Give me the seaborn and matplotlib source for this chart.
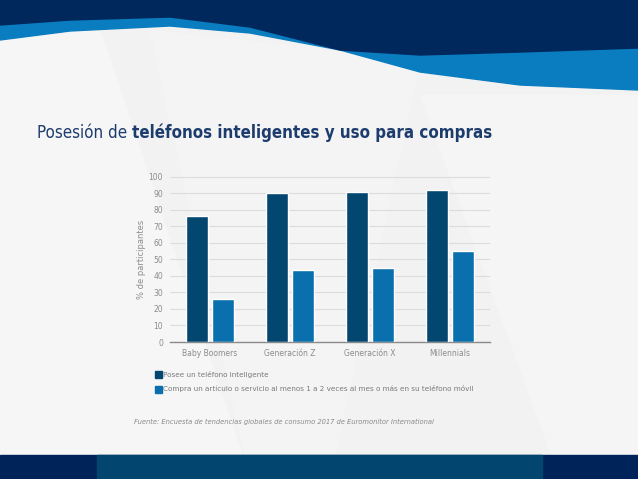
import numpy as np
import pandas as pd
import matplotlib
matplotlib.use('Agg')
import matplotlib.pyplot as plt
import seaborn as sns
from matplotlib.patches import Polygon, Rectangle

# Datos del gráfico
generaciones = ['Baby Boomers', 'Generación Z', 'Generación X', 'Millennials']
posee_telefono = [76, 90, 91, 92]
compra_movil = [26, 43.5, 44.5, 55]
series = ['Posee un teléfono inteligente',
          'Compra un artículo o servicio al menos 1 a 2 veces al mes o más en su teléfono móvil']
colores = ['#03466f', '#0a70ad']

df = pd.DataFrame({
    'Generación': generaciones * 2,
    'Serie': [series[0]] * 4 + [series[1]] * 4,
    'Valor': posee_telefono + compra_movil,
})

sns.set_theme(style='white')
plt.rcParams['font.family'] = ['DejaVu Sans']

fig = plt.figure(figsize=(6.38, 4.79), dpi=100)
fig.patch.set_facecolor('#f2f2f2')

# fondo de la diapositiva (facetas claras)
def fx(x): return x / 638
def fy(y): return 1 - y / 479

for pts, c in [
    ([(0, 40), (100, 30), (250, 479), (0, 479)], '#f6f6f6'),
    ([(150, 30), (420, 60), (330, 479), (250, 479)], '#f4f4f4'),
    ([(420, 95), (638, 95), (638, 479), (560, 479)], '#f5f5f5'),
]:
    fig.add_artist(Polygon([(fx(a), fy(b)) for a, b in pts], closed=True,
                           transform=fig.transFigure, color=c, zorder=0))

# banda superior y onda azul
top_x = [0, 70, 170, 250, 340, 420, 520, 638]
navy_y = [25, 20, 17, 27, 50, 55, 52, 48]
blue_y = [40, 31, 26, 33, 50, 72, 85, 90]
blue_pts = [(fx(x), fy(y)) for x, y in zip(top_x, blue_y)] + [(1, 1), (0, 1)]
fig.add_artist(Polygon(blue_pts, closed=True, transform=fig.transFigure,
                       color='#0a7cc0', zorder=1))
navy_pts = [(fx(x), fy(y)) for x, y in zip(top_x, navy_y)] + [(1, 1), (0, 1)]
fig.add_artist(Polygon(navy_pts, closed=True, transform=fig.transFigure,
                       color='#00285c', zorder=2))

# banda inferior
fig.add_artist(Rectangle((0, 0), 1, fy(455), transform=fig.transFigure,
                         color='#00245a', zorder=1))
fig.add_artist(Rectangle((fx(97), 0), fx(542) - fx(97), fy(455),
                         transform=fig.transFigure, color='#02466f', zorder=2))

# título (dos partes: ligera + negrita)
renderer = fig.canvas.get_renderer()
t1 = fig.text(fx(37), fy(133), 'Posesión de ', fontsize=12.2, color='#1d3c6e',
              family='DejaVu Sans', fontstretch='condensed', va='center', ha='left')
x_end = t1.get_window_extent(renderer).x1 / fig.bbox.width
fig.text(x_end, fy(133), 'teléfonos inteligentes y uso para compras', fontsize=12.2,
         color='#1d3c6e', family='DejaVu Sans', fontstretch='condensed',
         fontweight='bold', va='center', ha='left')

# gráfico de barras
ax = fig.add_axes([fx(170), fy(342), fx(490) - fx(170), fy(176) - fy(342)])
ax.set_facecolor('none')
sns.barplot(data=df, x='Generación', y='Valor', hue='Serie', palette=colores,
            saturation=1, width=0.66, gap=0.18, ax=ax, legend=False, zorder=3)
ax.set_ylim(0, 100.5)
ax.set_yticks(range(0, 101, 10))
ax.yaxis.grid(True, color='#dcdcdc', linewidth=0.8, zorder=0)
ax.set_axisbelow(True)
for s in ['top', 'right', 'left']:
    ax.spines[s].set_visible(False)
ax.spines['bottom'].set_color('#8a8a8a')
ax.spines['bottom'].set_linewidth(1.0)
ax.tick_params(axis='both', length=0, labelsize=5.5, labelcolor='#8c8c8c')
ax.tick_params(axis='y', pad=5)
ax.tick_params(axis='x', pad=5)
ax.set_xlabel('')
ax.set_ylabel('% de participantes', fontsize=6, color='#8c8c8c', labelpad=2)

# leyenda
for i, (lab, c) in enumerate(zip(series, colores)):
    y = fy(374 + 15 * i)
    fig.add_artist(Rectangle((fx(155), y - 0.008), fx(7), fy(0) - fy(7),
                             transform=fig.transFigure, color=c, zorder=3))
    fig.text(fx(163), y, lab, fontsize=5.2, color='#7a7a7a', va='center', ha='left')

# fuente
fig.text(fx(134), fy(422),
         'Fuente: Encuesta de tendencias globales de consumo 2017 de Euromonitor International',
         fontsize=4.85, color='#8a8a8a', style='italic', va='center', ha='left')

fig.savefig('out.png', dpi=100)
